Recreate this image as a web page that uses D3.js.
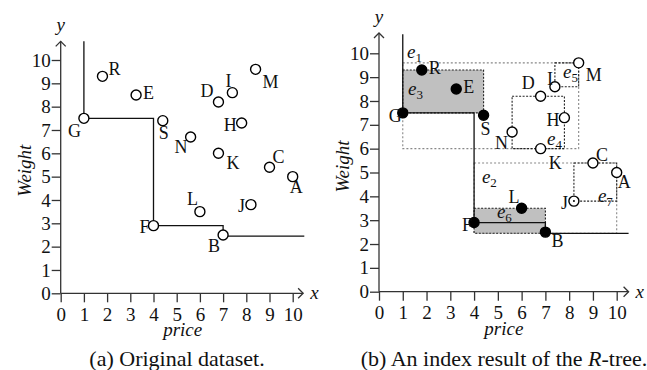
<!DOCTYPE html>
<html>
<head>
<meta charset="utf-8">
<script src="https://cdn.jsdelivr.net/npm/d3@7"></script>
<style>
  body { margin: 0; background: #fff; }
  text { font-family: "Liberation Serif", "Times New Roman", serif; fill: #111; }
</style>
</head>
<body>
<script>
// ---- data ----
const names      = ['G', 'R', 'E', 'S', 'N', 'D', 'I', 'M', 'H', 'K', 'C', 'A', 'L', 'J', 'F', 'B'];
const priceVals  = [1.0, 1.8, 3.25, 4.4, 5.6, 6.8, 7.4, 8.4, 7.8, 6.8, 9.0, 10.0, 6.0, 8.2, 4.0, 7.0];
const weightVals = [7.5, 9.3, 8.5, 7.4, 6.7, 8.2, 8.6, 9.6, 7.3, 6.0, 5.4, 5.0, 3.5, 3.8, 2.9, 2.5];

// skyline staircase
const skyX = [1, 1, 4, 4, 7, 7, 10.5];
const skyY = [10.8, 7.5, 7.5, 2.9, 2.9, 2.45, 2.45];

const xTicks = [0, 1, 2, 3, 4, 5, 6, 7, 8, 9, 10];
const yTicks = [0, 1, 2, 3, 4, 5, 6, 7, 8, 9, 10];

// R-tree bounding rectangles
const mbrNames = ['e1', 'e2', 'e3', 'e4', 'e5', 'e6', 'e7'];
const mbrX0    = [1.0, 4.0, 1.0, 5.6, 7.4, 4.0, 8.2];
const mbrX1    = [8.4, 10.0, 4.4, 7.8, 8.4, 7.0, 10.0];
const mbrY0    = [6.0, 2.45, 7.5, 6.0, 8.6, 2.45, 3.8];
const mbrY1    = [9.6, 5.4, 9.3, 8.2, 9.6, 3.5, 5.4];
const mbrKind  = ['outer', 'outer', 'hit', 'inner', 'inner', 'hit', 'inner'];

// points reported by the index (drawn filled)
const hitPoints = ['G', 'R', 'E', 'S', 'L', 'F', 'B'];

// label placement: [anchor, dx, dy] in px
const labA = {
  R: ['start', 6, -1], E: ['start', 7, 4], G: ['end', -3, 19], S: ['start', -4, 18],
  N: ['end', -3, 16], D: ['end', -5, -5], I: ['end', -1, -6], M: ['start', 7, 19],
  H: ['end', -5, 8], K: ['start', 8, 16], C: ['start', 3, -4], A: ['start', -3, 16],
  L: ['end', -2, -7], J: ['end', -6, 7], F: ['end', -4, 7], B: ['end', -3, 17]
};
const labB = {
  R: ['start', 7, 4], E: ['start', 7, 4], G: ['end', -1, 9], S: ['start', -3, 20],
  N: ['end', -4, 17], D: ['end', -6, -7], I: ['end', -2, -2], M: ['start', 7, 18],
  H: ['end', -5, 8], K: ['start', 8, 20], C: ['start', 3, -2], A: ['start', 1, 15],
  L: ['end', -2, -5], J: ['end', -6, 8], F: ['end', -2, 8], B: ['start', 6, 15]
};
// e-label anchor points in data units
const eLabX = [1.18, 4.33, 1.22, 7.07, 7.74, 4.96, 9.21];
const eLabY = [9.80, 4.56, 8.25, 6.15, 8.96, 3.09, 3.76];

const pts = names.map((n, i) => ({ name: n, x: priceVals[i], y: weightVals[i] }));
const sky = skyX.map((v, i) => [v, skyY[i]]);

const svg = d3.select('body').append('svg')
  .attr('width', 647)
  .attr('height', 370);

const axisColor = '#333';

function drawPanel(cfg) {
  const x = d3.scaleLinear().domain([0, 10]).range(cfg.xr);
  const y = d3.scaleLinear().domain([0, 10]).range(cfg.yr);
  const g = svg.append('g');

  // rectangles behind everything (panel b only)
  if (cfg.rtree) {
    const rects = mbrNames.map((n, i) => ({ name: n, x0: mbrX0[i], x1: mbrX1[i], y0: mbrY0[i], y1: mbrY1[i], kind: mbrKind[i], lx: eLabX[i], ly: eLabY[i] }));
    ['outer', 'hit', 'inner'].forEach(k => {
      g.selectAll('rect.' + k).data(rects.filter(r => r.kind === k)).enter()
        .append('rect')
        .attr('class', k)
        .attr('x', d => x(d.x0))
        .attr('y', d => y(d.y1))
        .attr('width', d => x(d.x1) - x(d.x0))
        .attr('height', d => y(d.y0) - y(d.y1))
        .style('fill', k === 'hit' ? '#c0c0c0' : 'none')
        .style('stroke', k === 'outer' ? '#888' : '#222')
        .style('stroke-width', 1.1)
        .style('stroke-dasharray', k === 'outer' ? '2,2' : '2,1.5');
    });

    const el = g.selectAll('text.elab').data(rects).enter()
      .append('text')
      .attr('class', 'elab')
      .attr('x', d => x(d.lx))
      .attr('y', d => y(d.ly))
      .style('font-size', '19px')
      .style('font-style', 'italic');
    el.append('tspan').text('e');
    el.append('tspan').text(d => d.name.slice(1))
      .attr('dy', 4)
      .style('font-size', '13px')
      .style('font-style', 'normal');
  }

  // skyline staircase
  g.append('path').datum(sky)
    .attr('d', d3.line().x(d => x(d[0])).y(d => y(d[1])))
    .style('fill', 'none')
    .style('stroke', '#111')
    .style('stroke-width', 1.3);

  // axes
  const xa = g.append('g')
    .attr('transform', 'translate(0,' + y(0) + ')')
    .call(d3.axisBottom(x).tickValues(xTicks).tickSize(9).tickPadding(5).tickFormat(d3.format('d')));
  const ya = g.append('g')
    .attr('transform', 'translate(' + x(0) + ',0)')
    .call(d3.axisLeft(y).tickValues(yTicks).tickSize(9).tickPadding(1).tickFormat(d3.format('d')));
  [xa, ya].forEach(a => {
    a.select('.domain').remove();
    a.selectAll('line').style('stroke', axisColor).style('stroke-width', 1.3);
    a.selectAll('text').style('font-size', '19px').style('font-family', '"Liberation Serif", serif').style('fill', '#111');
  });

  const xEnd = x(cfg.xMax), yEnd = y(cfg.yMax);
  g.append('line').attr('x1', x(0)).attr('x2', xEnd).attr('y1', y(0)).attr('y2', y(0))
    .style('stroke', axisColor).style('stroke-width', 1.3);
  g.append('line').attr('x1', x(0)).attr('x2', x(0)).attr('y1', y(0)).attr('y2', yEnd)
    .style('stroke', axisColor).style('stroke-width', 1.3);
  // arrow heads
  g.append('path')
    .attr('d', `M${xEnd - 5},${y(0) - 5}L${xEnd},${y(0)}L${xEnd - 5},${y(0) + 5}`)
    .style('fill', 'none').style('stroke', axisColor).style('stroke-width', 1.3);
  g.append('path')
    .attr('d', `M${x(0) - 5},${yEnd + 5}L${x(0)},${yEnd}L${x(0) + 5},${yEnd + 5}`)
    .style('fill', 'none').style('stroke', axisColor).style('stroke-width', 1.3);

  g.append('text').attr('x', xEnd + 7).attr('y', y(0) + 6)
    .style('font-size', '19px').style('font-style', 'italic').text('x');
  g.append('text').attr('x', x(0)).attr('y', yEnd - 10)
    .attr('text-anchor', 'middle')
    .style('font-size', '19px').style('font-style', 'italic').text('y');

  // axis titles
  g.append('text').attr('x', (x(0) + x(10)) / 2 + 6).attr('y', y(0) + 43)
    .attr('text-anchor', 'middle')
    .style('font-size', '19px').style('font-style', 'italic').text('price');
  g.append('text')
    .attr('transform', 'translate(' + (x(0) - 30) + ',' + ((y(0) + y(10)) / 2 - 6) + ') rotate(-90)')
    .attr('text-anchor', 'middle')
    .style('font-size', '19px').style('font-style', 'italic').text('Weight');

  // points
  g.selectAll('circle.pt').data(pts).enter()
    .append('circle')
    .attr('class', 'pt')
    .attr('cx', d => x(d.x))
    .attr('cy', d => y(d.y))
    .attr('r', 5)
    .style('fill', d => cfg.rtree && hitPoints.includes(d.name) ? '#000' : '#fff')
    .style('stroke', '#000')
    .style('stroke-width', 1.4);
  if (cfg.rtree) {
    // J sits on the dotted corner of e7
    g.append('circle').attr('cx', x(priceVals[names.indexOf('J')])).attr('cy', y(weightVals[names.indexOf('J')]))
      .attr('r', 1).style('fill', '#000');
  }

  g.selectAll('text.plab').data(pts).enter()
    .append('text')
    .attr('class', 'plab')
    .attr('x', d => x(d.x) + cfg.lab[d.name][1])
    .attr('y', d => y(d.y) + cfg.lab[d.name][2])
    .attr('text-anchor', d => cfg.lab[d.name][0])
    .style('font-size', '18px')
    .text(d => d.name);

  // caption
  const cap = g.append('text').attr('x', cfg.capX).attr('y', 366)
    .attr('text-anchor', 'middle')
    .style('font-size', '22px');
  cfg.caption.forEach(p => cap.append('tspan').text(p[0]).style('font-style', p[1] ? 'italic' : 'normal'));
}

drawPanel({
  xr: [60.7, 292.7], yr: [293.3, 60], xMax: 10.45, yMax: 10.8,
  lab: labA, rtree: false, capX: 177,
  caption: [['(a) Original dataset.', false]]
});
drawPanel({
  xr: [379, 616.7], yr: [291.7, 53.3], xMax: 10.5, yMax: 10.85,
  lab: labB, rtree: true, capX: 504,
  caption: [['(b) An index result of the ', false], ['R', true], ['-tree.', false]]
});
</script>
</body>
</html>
